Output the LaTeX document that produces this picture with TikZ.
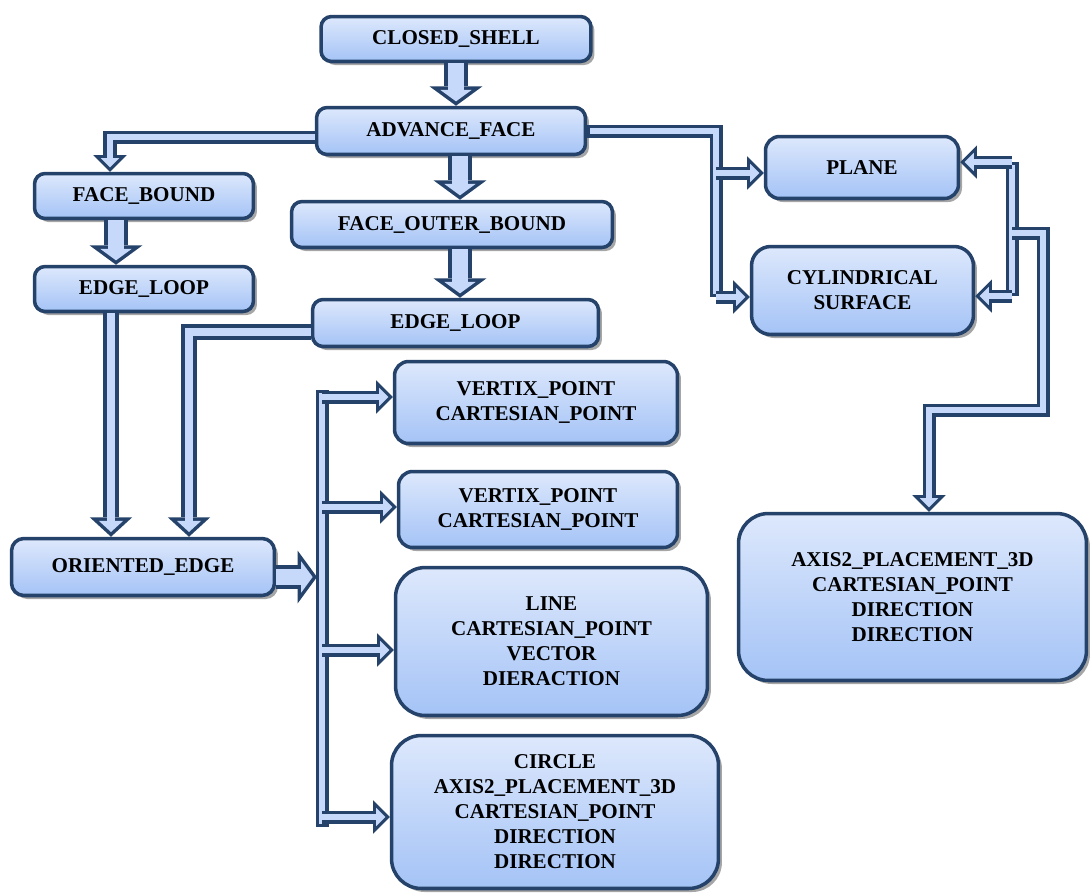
\documentclass[tikz,border=0pt]{standalone}
\usepackage{fontspec}
\setmainfont{Liberation Serif}
\usetikzlibrary{arrows.meta, shadows}
\definecolor{edgeblue}{HTML}{25436A}
\definecolor{boxtop}{HTML}{DDE8FC}
\definecolor{boxbot}{HTML}{A4C3F6}
\definecolor{arrowfill}{HTML}{C6D9FA}

\tikzset{
  box/.style={draw=edgeblue, line width=2pt, rounded corners=6pt,
    top color=boxtop, bottom color=boxbot,
    drop shadow={shadow xshift=2pt, shadow yshift=-2pt, fill=black, opacity=.35},
    font=\fontsize{12}{14.2}\selectfont\bfseries, align=center, inner sep=2pt},
  bigarr/.style={line width=13.5pt, draw=edgeblue,
    -{Triangle[length=11pt,width=30pt,line width=0pt]},
    postaction={draw=arrowfill, line width=9.1pt, shorten >=2.5pt,
      -{Triangle[length=6.5pt,width=17.8pt,line width=0pt]}}},
  midarr/.style={line width=9pt, draw=edgeblue,
    -{Triangle[length=11pt,width=24pt,line width=0pt]},
    postaction={draw=arrowfill, line width=5pt, shorten >=2.7pt,
      -{Triangle[length=6.3pt,width=13.7pt,line width=0pt]}}},
  smallarr/.style={line width=7.4pt, draw=edgeblue,
    -{Triangle[length=9.5pt,width=19pt,line width=0pt]},
    postaction={draw=arrowfill, line width=3.8pt, shorten >=2.55pt,
      -{Triangle[length=5.15pt,width=10.3pt,line width=0pt]}}},
  busline/.style={line width=7.4pt, draw=edgeblue,
    postaction={draw=arrowfill, line width=3.8pt, shorten >=1.8pt, shorten <=1.8pt}}
}

\begin{document}
\begin{tikzpicture}[x=0.02cm, y=-0.02cm]
  \useasboundingbox (0,0) rectangle (1090,894);

  % boxes
  \node[box, minimum width=5.40cm, minimum height=0.90cm] (closed) at (456,39) {CLOSED\_SHELL};
  \node[box, minimum width=5.38cm, minimum height=0.94cm] (adv) at (451,131) {ADVANCE\_FACE};
  \node[box, minimum width=4.38cm, minimum height=0.90cm] (fbound) at (144,196) {FACE\_BOUND};
  \node[box, minimum width=6.42cm, minimum height=0.92cm] (fouter) at (452,224.5) {FACE\_OUTER\_BOUND};
  \node[box, minimum width=4.38cm, minimum height=0.90cm] (eloopL) at (144,289) {EDGE\_LOOP};
  \node[box, minimum width=5.72cm, minimum height=0.94cm] (eloopM) at (455.5,323) {EDGE\_LOOP};
  \node[box, minimum width=3.86cm, minimum height=1.24cm, rounded corners=8pt] (plane) at (862,167.5) {PLANE};
  \node[box, minimum width=4.44cm, minimum height=1.76cm, rounded corners=11pt] (cyl) at (862.5,290.5) {CYLINDRICAL\\SURFACE};
  \node[box, minimum width=5.66cm, minimum height=1.64cm, rounded corners=8pt] (vp1) at (536,402.5) {VERTIX\_POINT\\CARTESIAN\_POINT};
  \node[box, minimum width=5.58cm, minimum height=1.52cm, rounded corners=8pt] (vp2) at (538,509.5) {VERTIX\_POINT\\CARTESIAN\_POINT};
  \node[box, minimum width=5.26cm, minimum height=1.14cm, rounded corners=7pt] (oedge) at (143,567) {ORIENTED\_EDGE};
  \node[box, minimum width=6.24cm, minimum height=2.96cm, rounded corners=17pt] (line) at (551.5,641.5) {LINE\\CARTESIAN\_POINT\\VECTOR\\DIERACTION};
  \node[box, minimum width=6.54cm, minimum height=3.06cm, rounded corners=17pt] (circle) at (555,812) {CIRCLE\\AXIS2\_PLACEMENT\_3D\\CARTESIAN\_POINT\\DIRECTION\\DIRECTION};
  \node[box, minimum width=6.96cm, minimum height=3.34cm, rounded corners=17pt] (axis) at (912.5,597) {AXIS2\_PLACEMENT\_3D\\CARTESIAN\_POINT\\DIRECTION\\DIRECTION};

  % bend points
  \coordinate (v2) at (460,0);
  \coordinate (v3) at (116,0);
  \coordinate (k1) at (110,137);
  \coordinate (k2) at (111,0);
  \coordinate (k3) at (189,332);
  \coordinate (r1) at (716,131);
  \coordinate (r2) at (716,173);
  \coordinate (r3) at (716,297);
  \coordinate (q1) at (1012,162);
  \coordinate (q2) at (1012,296);
  \coordinate (q3) at (1012,233);
  \coordinate (q4) at (1043,233);
  \coordinate (q5) at (1043,410);
  \coordinate (q6) at (929,410);
  \coordinate (b0) at (317,577);
  \coordinate (b1) at (322,390);
  \coordinate (b2) at (322,827);
  \coordinate (b3) at (322,397);
  \coordinate (b4) at (322,507);
  \coordinate (b5) at (322,650);
  \coordinate (b6) at (322,817);

  % connectors
  \draw[bigarr] (closed.south) -- (closed.south |- adv.north);
  \draw[bigarr] (adv.south -| v2) -- (fouter.north -| v2);
  \draw[bigarr] (fouter.south -| v2) -- (eloopM.north -| v2);
  \draw[bigarr] (fbound.south -| v3) -- (eloopL.north -| v3);
  \draw[smallarr] (adv.west |- k1) -- (k1) -- (k1 |- fbound.north);
  \draw[midarr] (eloopL.south -| k2) -- (oedge.north -| k2);
  \draw[midarr] (eloopM.west |- k3) -- (k3) -- (k3 |- oedge.north);

  \draw[busline] (adv.east |- r1) -- (r1) -- (r3);
  \draw[smallarr] (r2) -- (r2 -| plane.west);
  \draw[smallarr] (r3) -- (r3 -| cyl.west);

  \draw[busline] (q1) -- (q2);
  \draw[smallarr] (q1) -- (q1 -| plane.east);
  \draw[smallarr] (q2) -- (q2 -| cyl.east);
  \draw[smallarr] (q3) -- (q4) -- (q5) -- (q6) -- (q6 |- axis.north);

  \draw[bigarr] (oedge.east |- b0) -- (b0);
  \draw[busline] (b1) -- (b2);
  \draw[smallarr] (b3) -- (b3 -| vp1.west);
  \draw[smallarr] (b4) -- (b4 -| vp2.west);
  \draw[smallarr] (b5) -- (b5 -| line.west);
  \draw[smallarr] (b6) -- (b6 -| circle.west);
\end{tikzpicture}
\end{document}
